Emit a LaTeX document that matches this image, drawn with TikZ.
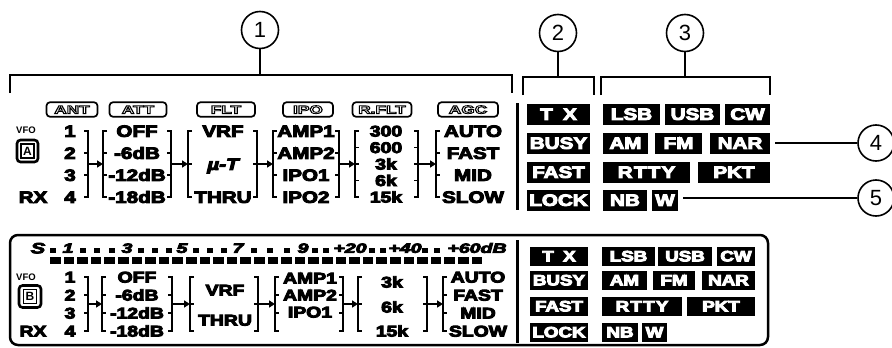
\documentclass[tikz,border=0pt]{standalone}
\usepackage{fontspec}
\setmainfont{Liberation Sans}
\usetikzlibrary{arrows.meta}
\newcommand{\hv}[1]{\special{pdf:literal direct 2 Tr 0.85 w}\scalebox{1.25}[1]{#1}\special{pdf:literal direct 0 Tr}}
\newcommand{\sm}[1]{\special{pdf:literal direct 2 Tr 0.7 w}\scalebox{1.45}[1]{#1}\special{pdf:literal direct 0 Tr}}
\newcommand{\hollow}[1]{\special{pdf:literal direct 1 Tr 0.8 w}\scalebox{1.5}[1]{#1}\special{pdf:literal direct 0 Tr}}
\newcommand{\rbr}[4]{\draw[brk] (#1-4,#2) -- (#1,#2) -- (#1,#3) -- (#1-4,#3);
  \foreach \yy in {#4} {\draw[brk] (#1-4,\yy) -- (#1,\yy);}}
\newcommand{\lbr}[4]{\draw[brk] (#1+4,#2) -- (#1,#2) -- (#1,#3) -- (#1+4,#3);
  \foreach \yy in {#4} {\draw[brk] (#1,\yy) -- (#1+4,\yy);}}
\begin{document}
\begin{tikzpicture}[x=1pt,y=-1pt,
  lab/.style={inner sep=0pt, font=\bfseries\fontsize{16.5}{16.5}\selectfont, text height=11.8pt, text depth=0pt},
  labm/.style={inner sep=0pt, font=\bfseries\fontsize{15.5}{15.5}\selectfont, text height=11.1pt, text depth=0pt},
  labs/.style={inner sep=0pt, font=\bfseries\fontsize{15.5}{15.5}\selectfont, text height=11.1pt, text depth=0pt},
  inv/.style={fill=black, text=white, inner sep=0pt, font=\bfseries\fontsize{16.5}{16.5}\selectfont, text height=11.8pt, text depth=0pt, minimum height=21pt},
  invs/.style={fill=black, text=white, inner sep=0pt, font=\bfseries\fontsize{15}{15}\selectfont, text height=10.7pt, text depth=0pt, minimum height=19pt},
  hdr/.style={draw, line width=1.7pt, rounded corners=3.5pt, inner sep=0pt, minimum height=14.5pt, font=\bfseries\fontsize{11.5}{11.5}\selectfont, text height=8.2pt, text depth=0pt},
  num/.style={circle, draw, line width=1.6pt, minimum size=37pt, inner sep=0pt, font=\fontsize{22}{22}\selectfont, text height=15.7pt, text depth=0pt},
  brk/.style={line width=1.8pt},
  arr/.style={line width=1.8pt, -{Triangle[length=6pt,width=7pt]}},
  lead/.style={line width=1.6pt},
  smt/.style={inner sep=0pt, font=\bfseries\itshape\fontsize{13.5}{13.5}\selectfont, text height=9.7pt, text depth=0pt},
  vfo/.style={inner sep=0pt, font=\bfseries\fontsize{9.5}{9.5}\selectfont, text height=6.8pt, text depth=0pt},
]
\useasboundingbox (0,0) rectangle (892,348);

% ---------- callout circles and top brackets ----------
\node[num] (c1) at (260,30) {1};
\node[num] (c2) at (558,33) {2};
\node[num] (c3) at (685,33) {3};
\node[num, minimum size=36pt] (c4) at (876,143) {4};
\node[num, minimum size=36pt] (c5) at (876,198) {5};
\coordinate (b1) at (260,75);
\coordinate (b2) at (558,77);
\coordinate (b3) at (685,77);
\draw[lead] (10,93) -- (10,75) -- (512,75) -- (512,93);
\draw[lead] (523,95) -- (523,77) -- (594,77) -- (594,95);
\draw[lead] (601,95) -- (601,77) -- (770,77) -- (770,95);
\draw[lead] (c1) -- (b1);
\draw[lead] (c2) -- (b2);
\draw[lead] (c3) -- (b3);

% ---------- upper display (VFO A) ----------
\node[hdr, minimum width=51pt] (hANT) at (72,109.5) {\hollow{ANT}};
\node[hdr, minimum width=57pt] (hATT) at (138,109.5) {\hollow{ATT}};
\node[hdr, minimum width=58pt] (hFLT) at (226,109.5) {\hollow{FLT}};
\node[hdr, minimum width=50pt] (hIPO) at (308,109.5) {\hollow{IPO}};
\node[hdr, minimum width=59pt] (hRF) at (382,109.5) {\hollow{R.FLT}};
\node[hdr, minimum width=60pt] (hAGC) at (468,109.5) {\hollow{AGC}};

\node[vfo] (vfoa) at (26,130) {VFO};
\node[draw, line width=2.6pt, rounded corners=3.5pt, minimum width=21pt, minimum height=22pt, inner sep=0pt] (boxA) at (27.5,151) {};
\node[draw, line width=1.2pt, minimum width=13pt, minimum height=14pt, inner sep=0pt, font=\bfseries\fontsize{12}{12}\selectfont] (vA) at (27.5,151) {A};
\node[lab] (rxa) at (33,197) {\hv{RX}};

\node[lab] (a1) at (70,131) {\hv{1}};
\node[lab] (a2) at (70,153) {\hv{2}};
\node[lab] (a3) at (70,175) {\hv{3}};
\node[lab] (a4) at (70,197) {\hv{4}};
\rbr{88}{131}{197}{153,175}
\coordinate (aANTr) at (88,164); \coordinate (aATTl) at (103,164);
\draw[arr] (aANTr) -- (aATTl);

\lbr{103}{131}{197}{153,175}
\node[lab] (t1) at (137,131) {\hv{OFF}};
\node[lab] (t2) at (137,153) {\hv{-6dB}};
\node[lab] (t3) at (137,175) {\hv{-12dB}};
\node[lab] (t4) at (137,197) {\hv{-18dB}};
\rbr{171}{131}{197}{153,175}
\coordinate (aATTr) at (171,164); \coordinate (aFLTl) at (188,164);
\draw[arr] (aATTr) -- (aFLTl);

\lbr{188}{131}{197}{164}
\node[lab] (f1) at (223,131) {\hv{VRF}};
\node[lab, font=\bfseries\itshape\fontsize{16.5}{16.5}\selectfont] (f2) at (223,164) {\hv{µ-T}};
\node[lab] (f3) at (223,197) {\hv{THRU}};
\rbr{257}{131}{197}{164}
\coordinate (aFLTr) at (257,164); \coordinate (aIPOl) at (273,164);
\draw[arr] (aFLTr) -- (aIPOl);

\lbr{273}{131}{197}{153,175}
\node[lab] (i1) at (306,131) {\hv{AMP1}};
\node[lab] (i2) at (306,153) {\hv{AMP2}};
\node[lab] (i3) at (306,175) {\hv{IPO1}};
\node[lab] (i4) at (306,197) {\hv{IPO2}};
\rbr{339}{131}{197}{153,175}
\coordinate (aIPOr) at (339,164); \coordinate (aRFl) at (355,164);
\draw[arr] (aIPOr) -- (aRFl);

\lbr{355}{131}{197}{147.5,164,180.5}
\node[labm] (r1) at (386,131) {\hv{300}};
\node[labm] (r2) at (386,147.5) {\hv{600}};
\node[labm] (r3) at (386,164) {\hv{3k}};
\node[labm] (r4) at (386,180.5) {\hv{6k}};
\node[labm] (r5) at (386,197) {\hv{15k}};
\rbr{418}{131}{197}{147.5,164,180.5}
\coordinate (aRFr) at (418,164); \coordinate (aAGCl) at (436,164);
\draw[arr] (aRFr) -- (aAGCl);

\lbr{436}{131}{197}{153,175}
\node[lab] (g1) at (473,131) {\hv{AUTO}};
\node[lab] (g2) at (473,153) {\hv{FAST}};
\node[lab] (g3) at (473,175) {\hv{MID}};
\node[lab] (g4) at (473,197) {\hv{SLOW}};

\draw[line width=3pt] (517,103) -- (517,210);

\node[inv, minimum width=63pt] (tx) at (558.5,114) {\hv{T\hspace{0.5em}X}};
\node[inv, minimum width=63pt] (busy) at (558.5,143) {\hv{BUSY}};
\node[inv, minimum width=63pt] (fast) at (558.5,172) {\hv{FAST}};
\node[inv, minimum width=63pt] (lock) at (558.5,200) {\hv{LOCK}};
\node[inv, minimum width=57pt] (lsb) at (631.5,114) {\hv{LSB}};
\node[inv, minimum width=55pt] (usb) at (692.5,114) {\hv{USB}};
\node[inv, minimum width=45pt] (cw) at (747.5,114) {\hv{CW}};
\node[inv, minimum width=45pt] (am) at (625.5,143) {\hv{AM}};
\node[inv, minimum width=47pt] (fm) at (678.5,143) {\hv{FM}};
\node[inv, minimum width=60pt] (nar) at (740,143) {\hv{NAR}};
\node[inv, minimum width=87pt] (rtty) at (646.5,172) {\hv{R\kern1ptT\kern1ptT\kern1ptY}};
\node[inv, minimum width=72pt] (pkt) at (734,172) {\hv{PKT}};
\node[inv, minimum width=44pt] (nb) at (625,200) {\hv{NB}};
\node[inv, minimum width=26pt] (w) at (665,200) {\hv{W}};
\draw[lead, shorten <=5pt] (nar.east) -- (c4);
\draw[lead, shorten <=5pt] (w.east |- c5) -- (c5);

% ---------- lower display (VFO B) ----------
\draw[line width=2.5pt, rounded corners=8pt] (10,235) rectangle (768,345);

\node[smt, font=\bfseries\itshape\fontsize{15}{15}\selectfont, text height=10.7pt] (sS) at (38,248) {\sm{S}};
\node[smt] (s1) at (68,248) {\sm{1}};
\node[smt] (s3) at (127,248) {\sm{3}};
\node[smt] (s5) at (182,248) {\sm{5}};
\node[smt] (s7) at (238,248) {\sm{7}};
\node[smt] (s9) at (303,248) {\sm{9}};
\node[smt] (s20) at (350,248) {\sm{+20}};
\node[smt] (s40) at (405,248) {\sm{+40}};
\node[smt] (s60) at (477,248) {\sm{+60dB}};
\foreach \x in {53,83,97,112,141,155,169,196,210,224,254,270,287,315,326,372,383,425,437}
  \fill (\x-3,248) rectangle ++(6,5);
\foreach \i in {0,...,31}
  \fill (50+\i*13.6,257) rectangle ++(10.5,6.5);

\node[vfo] (vfob) at (26,277) {VFO};
\node[draw, line width=2.6pt, rounded corners=3.5pt, minimum width=22pt, minimum height=22pt, inner sep=0pt] (boxB) at (30,296.5) {};
\node[draw, line width=1.2pt, minimum width=13pt, minimum height=14pt, inner sep=0pt, font=\bfseries\fontsize{12}{12}\selectfont] (vB) at (30,296.5) {B};
\node[labs] (rxb) at (33,331) {\hv{RX}};

\node[labs] (b1n) at (70,277) {\hv{1}};
\node[labs] (b2n) at (70,295) {\hv{2}};
\node[labs] (b3n) at (70,313) {\hv{3}};
\node[labs] (b4n) at (70,331) {\hv{4}};
\rbr{88}{277}{331}{295,313}
\coordinate (bANTr) at (88,304); \coordinate (bATTl) at (102,304);
\draw[arr] (bANTr) -- (bATTl);

\lbr{102}{277}{331}{295,313}
\node[labs] (u1) at (137,277) {\hv{OFF}};
\node[labs] (u2) at (137,295) {\hv{-6dB}};
\node[labs] (u3) at (137,313) {\hv{-12dB}};
\node[labs] (u4) at (137,331) {\hv{-18dB}};
\rbr{172}{277}{331}{295,313}
\coordinate (bATTr) at (172,304); \coordinate (bFLTl) at (190,304);
\draw[arr] (bATTr) -- (bFLTl);

\lbr{190}{277}{331}{304}
\node[labs] (v1) at (225,290) {\hv{VRF}};
\node[labs] (v2) at (225,320) {\hv{THRU}};
\rbr{258}{277}{331}{304}
\coordinate (bFLTr) at (258,304); \coordinate (bIPOl) at (275,304);
\draw[arr] (bFLTr) -- (bIPOl);

\lbr{275}{277}{331}{295,313}
\node[labs] (j1) at (310,278) {\hv{AMP1}};
\node[labs] (j2) at (310,295) {\hv{AMP2}};
\node[labs] (j3) at (310,312) {\hv{IPO1}};
\rbr{343}{277}{331}{295,313}
\coordinate (bIPOr) at (343,304); \coordinate (bRFl) at (358,304);
\draw[arr] (bIPOr) -- (bRFl);

\lbr{358}{277}{331}{304}
\node[labs] (q1) at (392,282) {\hv{3k}};
\node[labs] (q2) at (392,307) {\hv{6k}};
\node[labs] (q3) at (392,331) {\hv{15k}};
\rbr{427}{277}{331}{304}
\coordinate (bRFr) at (427,304); \coordinate (bAGCl) at (443,304);
\draw[arr] (bRFr) -- (bAGCl);

\lbr{443}{277}{331}{295,313}
\node[labs] (h1) at (478,277) {\hv{AUTO}};
\node[labs] (h2) at (478,295) {\hv{FAST}};
\node[labs] (h3) at (478,313) {\hv{MID}};
\node[labs] (h4) at (478,331) {\hv{SLOW}};

\draw[line width=3pt] (517,240) -- (517,343);

\node[invs, minimum width=58pt] (tx2) at (559,256) {\hv{T\hspace{0.5em}X}};
\node[invs, minimum width=58pt] (busy2) at (559,280) {\hv{BUSY}};
\node[invs, minimum width=58pt] (fast2) at (559,306) {\hv{FAST}};
\node[invs, minimum width=58pt] (lock2) at (559,332) {\hv{LOCK}};
\node[invs, minimum width=53pt] (lsb2) at (628.5,256) {\hv{LSB}};
\node[invs, minimum width=54pt] (usb2) at (685,256) {\hv{USB}};
\node[invs, minimum width=38pt] (cw2) at (736,256) {\hv{CW}};
\node[invs, minimum width=45pt] (am2) at (624.5,280) {\hv{AM}};
\node[invs, minimum width=42pt] (fm2) at (674,280) {\hv{FM}};
\node[invs, minimum width=53pt] (nar2) at (728.5,280) {\hv{NAR}};
\node[invs, minimum width=80pt] (rtty2) at (642,306) {\hv{R\kern1ptT\kern1ptT\kern1ptY}};
\node[invs, minimum width=68pt] (pkt2) at (721,306) {\hv{PKT}};
\node[invs, minimum width=36pt] (nb2) at (620,332) {\hv{NB}};
\node[invs, minimum width=25pt] (w2) at (654.5,332) {\hv{W}};
\end{tikzpicture}
\end{document}
